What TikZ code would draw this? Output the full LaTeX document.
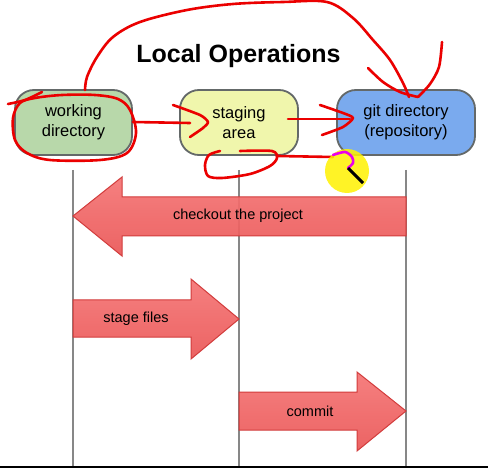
\documentclass[tikz,border=0pt]{standalone}
\usepackage{fontspec}
\setmainfont{Liberation Sans}
\definecolor{boxgray}{RGB}{100,105,105}
\definecolor{wdgreen}{RGB}{184,216,170}
\definecolor{stageyellow}{RGB}{240,246,172}
\definecolor{gitblue}{RGB}{122,170,238}
\definecolor{arrowtop}{RGB}{246,118,118}
\definecolor{arrowbot}{RGB}{234,88,88}
\definecolor{arrowedge}{RGB}{210,60,60}
\definecolor{lanegray}{RGB}{135,135,135}
\definecolor{inkred}{RGB}{235,0,0}
\definecolor{inkpink}{RGB}{235,0,235}
\begin{document}
\begin{tikzpicture}[x=1pt,y=-1pt,
  box/.style={draw=boxgray, line width=1.8pt, rounded corners=19pt, minimum height=65pt, inner sep=0pt, align=center, font=\fontsize{16.5}{20}\selectfont},
  bigarrow/.style={draw=arrowedge, line width=1pt, top color=arrowtop, bottom color=arrowbot, line join=miter},
  lane/.style={draw=lanegray, line width=1.6pt},
  ink/.style={draw=inkred, line width=2.6pt, line cap=round, line join=round},
  lbl/.style={font=\fontsize{14.5}{16}\selectfont}
]
\useasboundingbox (0,0) rectangle (488,468);
\fill[white] (0,0) rectangle (488,468);
\fill[black] (0,465.5) rectangle (488,468);

% title
\node[anchor=base] (title) at (238.5,63) {\fontsize{25}{30}\selectfont\bfseries Local Operations};

% boxes
\node[box, fill=wdgreen, minimum width=117pt] (wd) at (73.5,122.5) {working\\directory};
\node[box, fill=stageyellow, minimum width=118pt] (sa) at (239,122.5) {staging\\area};
\node[box, fill=gitblue, minimum width=138pt] (gd) at (406,122.5) {git directory\\(repository)};

% lanes
\coordinate (l1t) at (73,170);  \coordinate (l1b) at (73,466);
\coordinate (l2t) at (239,170); \coordinate (l2b) at (239,466);
\coordinate (l3t) at (406,170); \coordinate (l3b) at (406,466);
\draw[lane] (l1t) -- (l1b);
\draw[lane] (l2t) -- (l2b);
\draw[lane] (l3t) -- (l3b);

% big arrows
\path[bigarrow, fill opacity=0.93] (73,216) -- (122,177) -- (122,197) -- (406,197) -- (406,236) -- (122,236) -- (122,256) -- cycle;
\node[lbl] (co) at (238,216) {checkout the project};
\path[bigarrow, fill opacity=0.93] (73,300) -- (191,300) -- (191,279) -- (239,319) -- (191,359) -- (191,337) -- (73,337) -- cycle;
\node[lbl] (sf) at (136,319) {stage files};
\path[bigarrow, fill opacity=0.93] (239,392) -- (357,392) -- (357,372) -- (406,411) -- (357,451) -- (357,430) -- (239,430) -- cycle;
\node[lbl] (cm) at (310,411) {commit};

% hand-drawn annotations
\draw[ink] plot[smooth, tension=0.55] coordinates {(85,90) (87,77) (97,57) (113,37) (140,22) (187,10) (233,4) (283,2) (327,2) (353,18) (373,40) (390,60) (403,83) (409,97)};
\draw[ink] plot[smooth, tension=0.5] coordinates {(368,68) (383,82) (400,92) (418,97)};
\draw[ink] plot[smooth, tension=0.5] coordinates {(442,42) (439,67) (430,84) (418,97)};

\draw[ink] plot[smooth, tension=0.5] coordinates {(8,104) (25,100) (42,92)};
\draw[ink] plot[smooth cycle, tension=0.55] coordinates {(20,103) (13,118) (15,140) (27,153) (50,160) (100,160) (127,153) (136,133) (130,110) (118,99) (95,95) (62,95) (35,98)};

\draw[ink] (133,122) -- (190,123);
\draw[ink] plot[smooth, tension=0.4] coordinates {(173,105) (200,115) (208,122) (203,128) (190,137)};
\draw[ink] (288,119) -- (350,119);
\draw[ink] plot[smooth, tension=0.4] coordinates {(320,105) (343,113) (353,118) (343,127) (322,135)};

\draw[ink] plot[smooth, tension=0.5] coordinates {(240,151) (272,151) (277,158) (270,166) (250,174) (222,178) (208,176) (205,165) (209,155) (220,151)};
\draw[ink] (278,156) -- (333,157);

% pointer highlight
\fill[yellow, opacity=0.85] (347,171) circle (22);
\draw[draw=inkpink, line width=2.6pt, line cap=round, line join=round] plot[smooth, tension=0.5] coordinates {(333,155) (345,152) (352,157) (353,163) (348,168)};
\draw[black, line width=3pt] (348,168) -- (363,183);
\end{tikzpicture}
\end{document}
